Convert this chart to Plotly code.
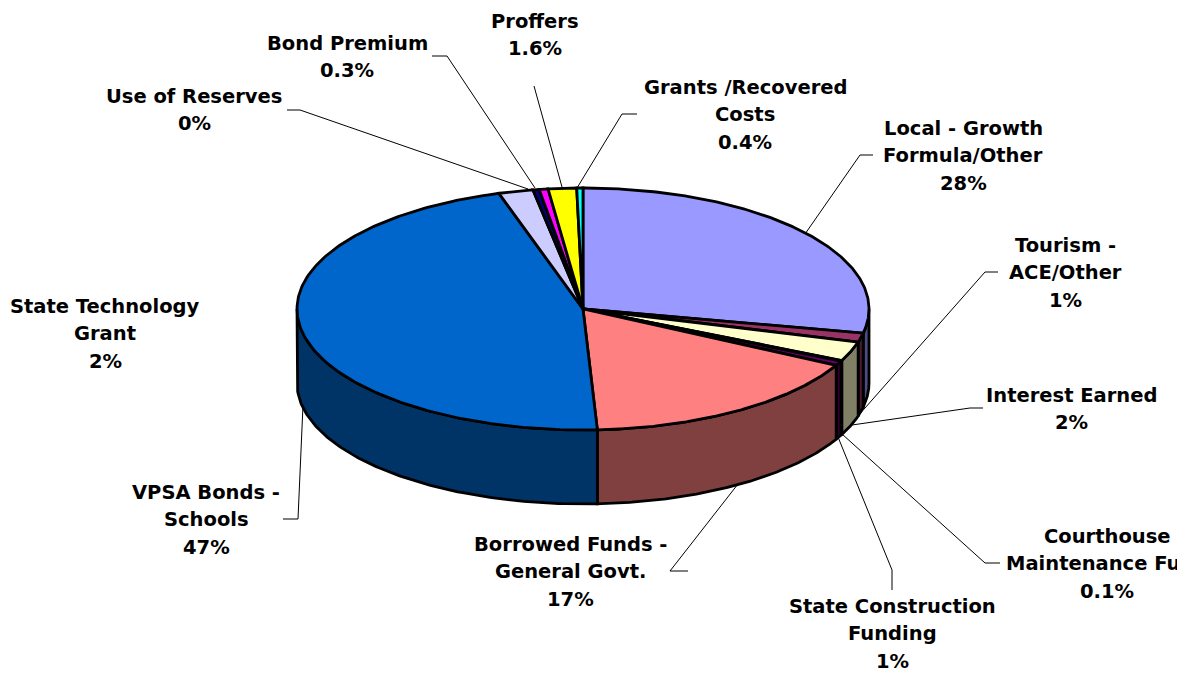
import numpy as np
import plotly.graph_objects as go

# slices, clockwise from 12 o'clock
categories = ['Local - Growth Formula/Other', 'Tourism - ACE/Other', 'Interest Earned',
              'Courthouse Maintenance Fund', 'State Construction Funding',
              'Borrowed Funds - General Govt.', 'VPSA Bonds - Schools', 'State Technology Grant',
              'Use of Reserves', 'Bond Premium', 'Proffers', 'Grants /Recovered Costs']
values = [28.2, 1.2, 2.6, 0.1, 0.6, 16.5, 46.05, 1.95, 0.35, 0.5, 1.6, 0.35]
top_colors = ['#9999FF', '#993366', '#FFFFCC', '#000000', '#660066', '#FF8080',
              '#0066CC', '#CCCCFF', '#000080', '#FF00FF', '#FFFF00', '#00FFFF']
side_colors = ['#4C4C80', '#4C1933', '#808066', '#000000', '#330033', '#804040',
               '#003366', '#666680', '#000040', '#800080', '#808000', '#008080']

# label lines, center x, y of first line
labels = [
    (['Proffers', '1.6%'], 535, 21),
    (['Bond Premium', '0.3%'], 347, 43),
    (['Use of Reserves', '0%'], 194, 96),
    (['Grants /Recovered', 'Costs', '0.4%'], 745, 87),
    (['Local - Growth', 'Formula/Other', '28%'], 963, 128),
    (['Tourism -', 'ACE/Other', '1%'], 1065, 245),
    (['Interest Earned', '2%'], 1071, 395),
    (['Courthouse', 'Maintenance Fund', '0.1%'], 1107, 536),
    (['State Construction', 'Funding', '1%'], 892, 606),
    (['Borrowed Funds -', 'General Govt.', '17%'], 570, 544),
    (['VPSA Bonds -', 'Schools', '47%'], 206, 492),
    (['State Technology', 'Grant', '2%'], 105, 306),
]

leaders = [
    [(287, 110), (300, 110), (528, 189)],
    [(432, 56), (447, 56), (535, 188)],
    [(534, 86), (562, 187)],
    [(637, 114), (622, 114), (577, 188)],
    [(873, 155), (860, 155), (805, 234)],
    [(998, 272), (985, 272), (850, 425)],
    [(983, 408), (970, 408), (845, 426)],
    [(1000, 563), (985, 563), (842, 434)],
    [(892, 590), (892, 570), (838, 437)],
    [(688, 571), (670, 571), (738, 484)],
    [(283, 519), (298, 519), (303, 405)],
]

W, H = 1177, 673
cx, cy, rx, ry, depth = 583, 309, 286, 121, 74
line_w = 2.8

fractions = np.array(values) / sum(values)
edges = np.concatenate([[0], np.cumsum(fractions)]) * 2 * np.pi


def rim(a, drop=0):
    return cx + rx * np.sin(a), cy - ry * np.cos(a) + drop


fig = go.Figure()

# leader lines sit behind the pie
for pts in leaders:
    fig.add_trace(go.Scatter(x=[p[0] for p in pts], y=[p[1] for p in pts], mode='lines',
                             line=dict(color='#000000', width=1), hoverinfo='skip'))

# side walls, only the front half of the rim shows
sides = []
for i in range(len(values)):
    a0 = max(edges[i], np.pi / 2)
    a1 = min(edges[i + 1], 3 * np.pi / 2)
    if a1 > a0:
        sides.append((i, a0, a1))
for i, a0, a1 in sides:
    a = np.linspace(a0, a1, 120)
    x0, y0 = rim(a)
    x1, y1 = rim(a[::-1], depth)
    fig.add_trace(go.Scatter(x=np.concatenate([x0, x1, x0[:1]]), y=np.concatenate([y0, y1, y0[:1]]),
                             mode='lines', fill='toself', fillcolor=side_colors[i],
                             line=dict(color='#000000', width=line_w), name=categories[i],
                             hoverinfo='name'))

# top face
for i in range(len(values)):
    a = np.linspace(edges[i], edges[i + 1], 200)
    x0, y0 = rim(a)
    fig.add_trace(go.Scatter(x=np.concatenate([[cx], x0, [cx]]), y=np.concatenate([[cy], y0, [cy]]),
                             mode='lines', fill='toself', fillcolor=top_colors[i],
                             line=dict(color='#000000', width=line_w), name=categories[i],
                             hoverinfo='name'))

# one annotation per line so the line pitch matches
for lines, x, y in labels:
    for n, text in enumerate(lines):
        fig.add_annotation(x=x, y=y + n * 27.7, text='<b>' + text + '</b>', showarrow=False,
                           xanchor='center', yanchor='middle',
                           font=dict(family='DejaVu Sans', size=19.5, color='#000000'))

fig.update_layout(
    width=W, height=H,
    margin=dict(l=0, r=0, t=0, b=0),
    paper_bgcolor='#FFFFFF', plot_bgcolor='#FFFFFF',
    showlegend=False,
    xaxis=dict(range=[0, W], visible=False),
    yaxis=dict(range=[H, 0], visible=False),
)

fig.write_html("out.html", config={'displayModeBar': False},
               post_script="document.body.style.margin='0';")
